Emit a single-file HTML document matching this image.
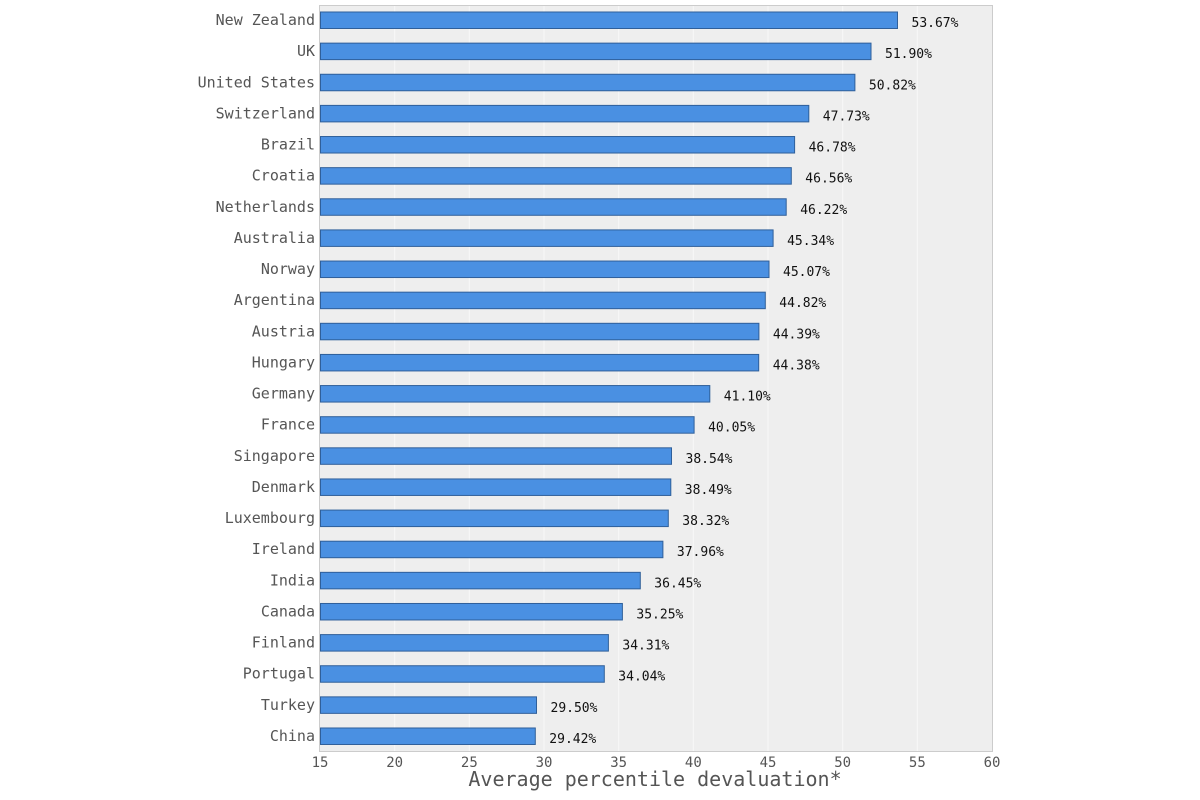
<!DOCTYPE html>
<html><head><meta charset="utf-8"><style>
body{margin:0;background:#fff;}
svg text{font-family:"DejaVu Sans Mono","Liberation Mono",monospace;}
.c{font-size:15px;fill:#555;text-anchor:end;}
.v{font-size:13px;fill:#111;}
.t{font-size:14px;fill:#555;text-anchor:middle;}
.b{fill:#4a90e2;stroke:#2f5f9a;stroke-width:1;}
</style></head><body>
<svg width="1200" height="795" xmlns="http://www.w3.org/2000/svg">
<rect x="319.5" y="5.5" width="673" height="746" fill="#eeeeee" stroke="#cccccc"/>
<g stroke="#f8f8f8">
<line x1="394.67" y1="6" x2="394.67" y2="751"/><line x1="469.33" y1="6" x2="469.33" y2="751"/><line x1="544" y1="6" x2="544" y2="751"/><line x1="618.67" y1="6" x2="618.67" y2="751"/><line x1="693.33" y1="6" x2="693.33" y2="751"/><line x1="768" y1="6" x2="768" y2="751"/><line x1="842.67" y1="6" x2="842.67" y2="751"/><line x1="917.33" y1="6" x2="917.33" y2="751"/>
</g>
<text class="t" x="320" y="767">15</text><text class="t" x="394.67" y="767">20</text><text class="t" x="469.33" y="767">25</text><text class="t" x="544" y="767">30</text><text class="t" x="618.67" y="767">35</text><text class="t" x="693.33" y="767">40</text><text class="t" x="768" y="767">45</text><text class="t" x="842.67" y="767">50</text><text class="t" x="917.33" y="767">55</text><text class="t" x="992" y="767">60</text>

<g transform="translate(0,20)"><rect class="b" x="320.5" y="-8" width="577" height="16.5"/><text class="c" x="315" y="5">New Zealand</text><text class="v" x="911.5" y="7">53.67%</text></g>
<g transform="translate(0,51.13)"><rect class="b" x="320.5" y="-8" width="550.5" height="16.5"/><text class="c" x="315" y="5">UK</text><text class="v" x="885" y="7">51.90%</text></g>
<g transform="translate(0,82.26)"><rect class="b" x="320.5" y="-8" width="534.4" height="16.5"/><text class="c" x="315" y="5">United States</text><text class="v" x="868.9" y="7">50.82%</text></g>
<g transform="translate(0,113.39)"><rect class="b" x="320.5" y="-8" width="488.3" height="16.5"/><text class="c" x="315" y="5">Switzerland</text><text class="v" x="822.8" y="7">47.73%</text></g>
<g transform="translate(0,144.52)"><rect class="b" x="320.5" y="-8" width="474.1" height="16.5"/><text class="c" x="315" y="5">Brazil</text><text class="v" x="808.6" y="7">46.78%</text></g>
<g transform="translate(0,175.65)"><rect class="b" x="320.5" y="-8" width="470.8" height="16.5"/><text class="c" x="315" y="5">Croatia</text><text class="v" x="805.3" y="7">46.56%</text></g>
<g transform="translate(0,206.78)"><rect class="b" x="320.5" y="-8" width="465.7" height="16.5"/><text class="c" x="315" y="5">Netherlands</text><text class="v" x="800.2" y="7">46.22%</text></g>
<g transform="translate(0,237.91)"><rect class="b" x="320.5" y="-8" width="452.6" height="16.5"/><text class="c" x="315" y="5">Australia</text><text class="v" x="787.1" y="7">45.34%</text></g>
<g transform="translate(0,269.04)"><rect class="b" x="320.5" y="-8" width="448.5" height="16.5"/><text class="c" x="315" y="5">Norway</text><text class="v" x="783" y="7">45.07%</text></g>
<g transform="translate(0,300.17)"><rect class="b" x="320.5" y="-8" width="444.8" height="16.5"/><text class="c" x="315" y="5">Argentina</text><text class="v" x="779.3" y="7">44.82%</text></g>
<g transform="translate(0,331.3)"><rect class="b" x="320.5" y="-8" width="438.4" height="16.5"/><text class="c" x="315" y="5">Austria</text><text class="v" x="772.9" y="7">44.39%</text></g>
<g transform="translate(0,362.43)"><rect class="b" x="320.5" y="-8" width="438.2" height="16.5"/><text class="c" x="315" y="5">Hungary</text><text class="v" x="772.7" y="7">44.38%</text></g>
<g transform="translate(0,393.56)"><rect class="b" x="320.5" y="-8" width="389.3" height="16.5"/><text class="c" x="315" y="5">Germany</text><text class="v" x="723.8" y="7">41.10%</text></g>
<g transform="translate(0,424.69)"><rect class="b" x="320.5" y="-8" width="373.6" height="16.5"/><text class="c" x="315" y="5">France</text><text class="v" x="708.1" y="7">40.05%</text></g>
<g transform="translate(0,455.82)"><rect class="b" x="320.5" y="-8" width="351" height="16.5"/><text class="c" x="315" y="5">Singapore</text><text class="v" x="685.5" y="7">38.54%</text></g>
<g transform="translate(0,486.95)"><rect class="b" x="320.5" y="-8" width="350.3" height="16.5"/><text class="c" x="315" y="5">Denmark</text><text class="v" x="684.8" y="7">38.49%</text></g>
<g transform="translate(0,518.08)"><rect class="b" x="320.5" y="-8" width="347.8" height="16.5"/><text class="c" x="315" y="5">Luxembourg</text><text class="v" x="682.3" y="7">38.32%</text></g>
<g transform="translate(0,549.21)"><rect class="b" x="320.5" y="-8" width="342.4" height="16.5"/><text class="c" x="315" y="5">Ireland</text><text class="v" x="676.9" y="7">37.96%</text></g>
<g transform="translate(0,580.34)"><rect class="b" x="320.5" y="-8" width="319.8" height="16.5"/><text class="c" x="315" y="5">India</text><text class="v" x="654.3" y="7">36.45%</text></g>
<g transform="translate(0,611.47)"><rect class="b" x="320.5" y="-8" width="301.9" height="16.5"/><text class="c" x="315" y="5">Canada</text><text class="v" x="636.4" y="7">35.25%</text></g>
<g transform="translate(0,642.6)"><rect class="b" x="320.5" y="-8" width="287.9" height="16.5"/><text class="c" x="315" y="5">Finland</text><text class="v" x="622.4" y="7">34.31%</text></g>
<g transform="translate(0,673.73)"><rect class="b" x="320.5" y="-8" width="283.8" height="16.5"/><text class="c" x="315" y="5">Portugal</text><text class="v" x="618.3" y="7">34.04%</text></g>
<g transform="translate(0,704.86)"><rect class="b" x="320.5" y="-8" width="216" height="16.5"/><text class="c" x="315" y="5">Turkey</text><text class="v" x="550.5" y="7">29.50%</text></g>
<g transform="translate(0,735.99)"><rect class="b" x="320.5" y="-8" width="214.8" height="16.5"/><text class="c" x="315" y="5">China</text><text class="v" x="549.3" y="7">29.42%</text></g>

<text x="655" y="786" font-size="20" fill="#555" text-anchor="middle" style="font-size:20px">Average percentile devaluation*</text>
</svg>
</body></html>
